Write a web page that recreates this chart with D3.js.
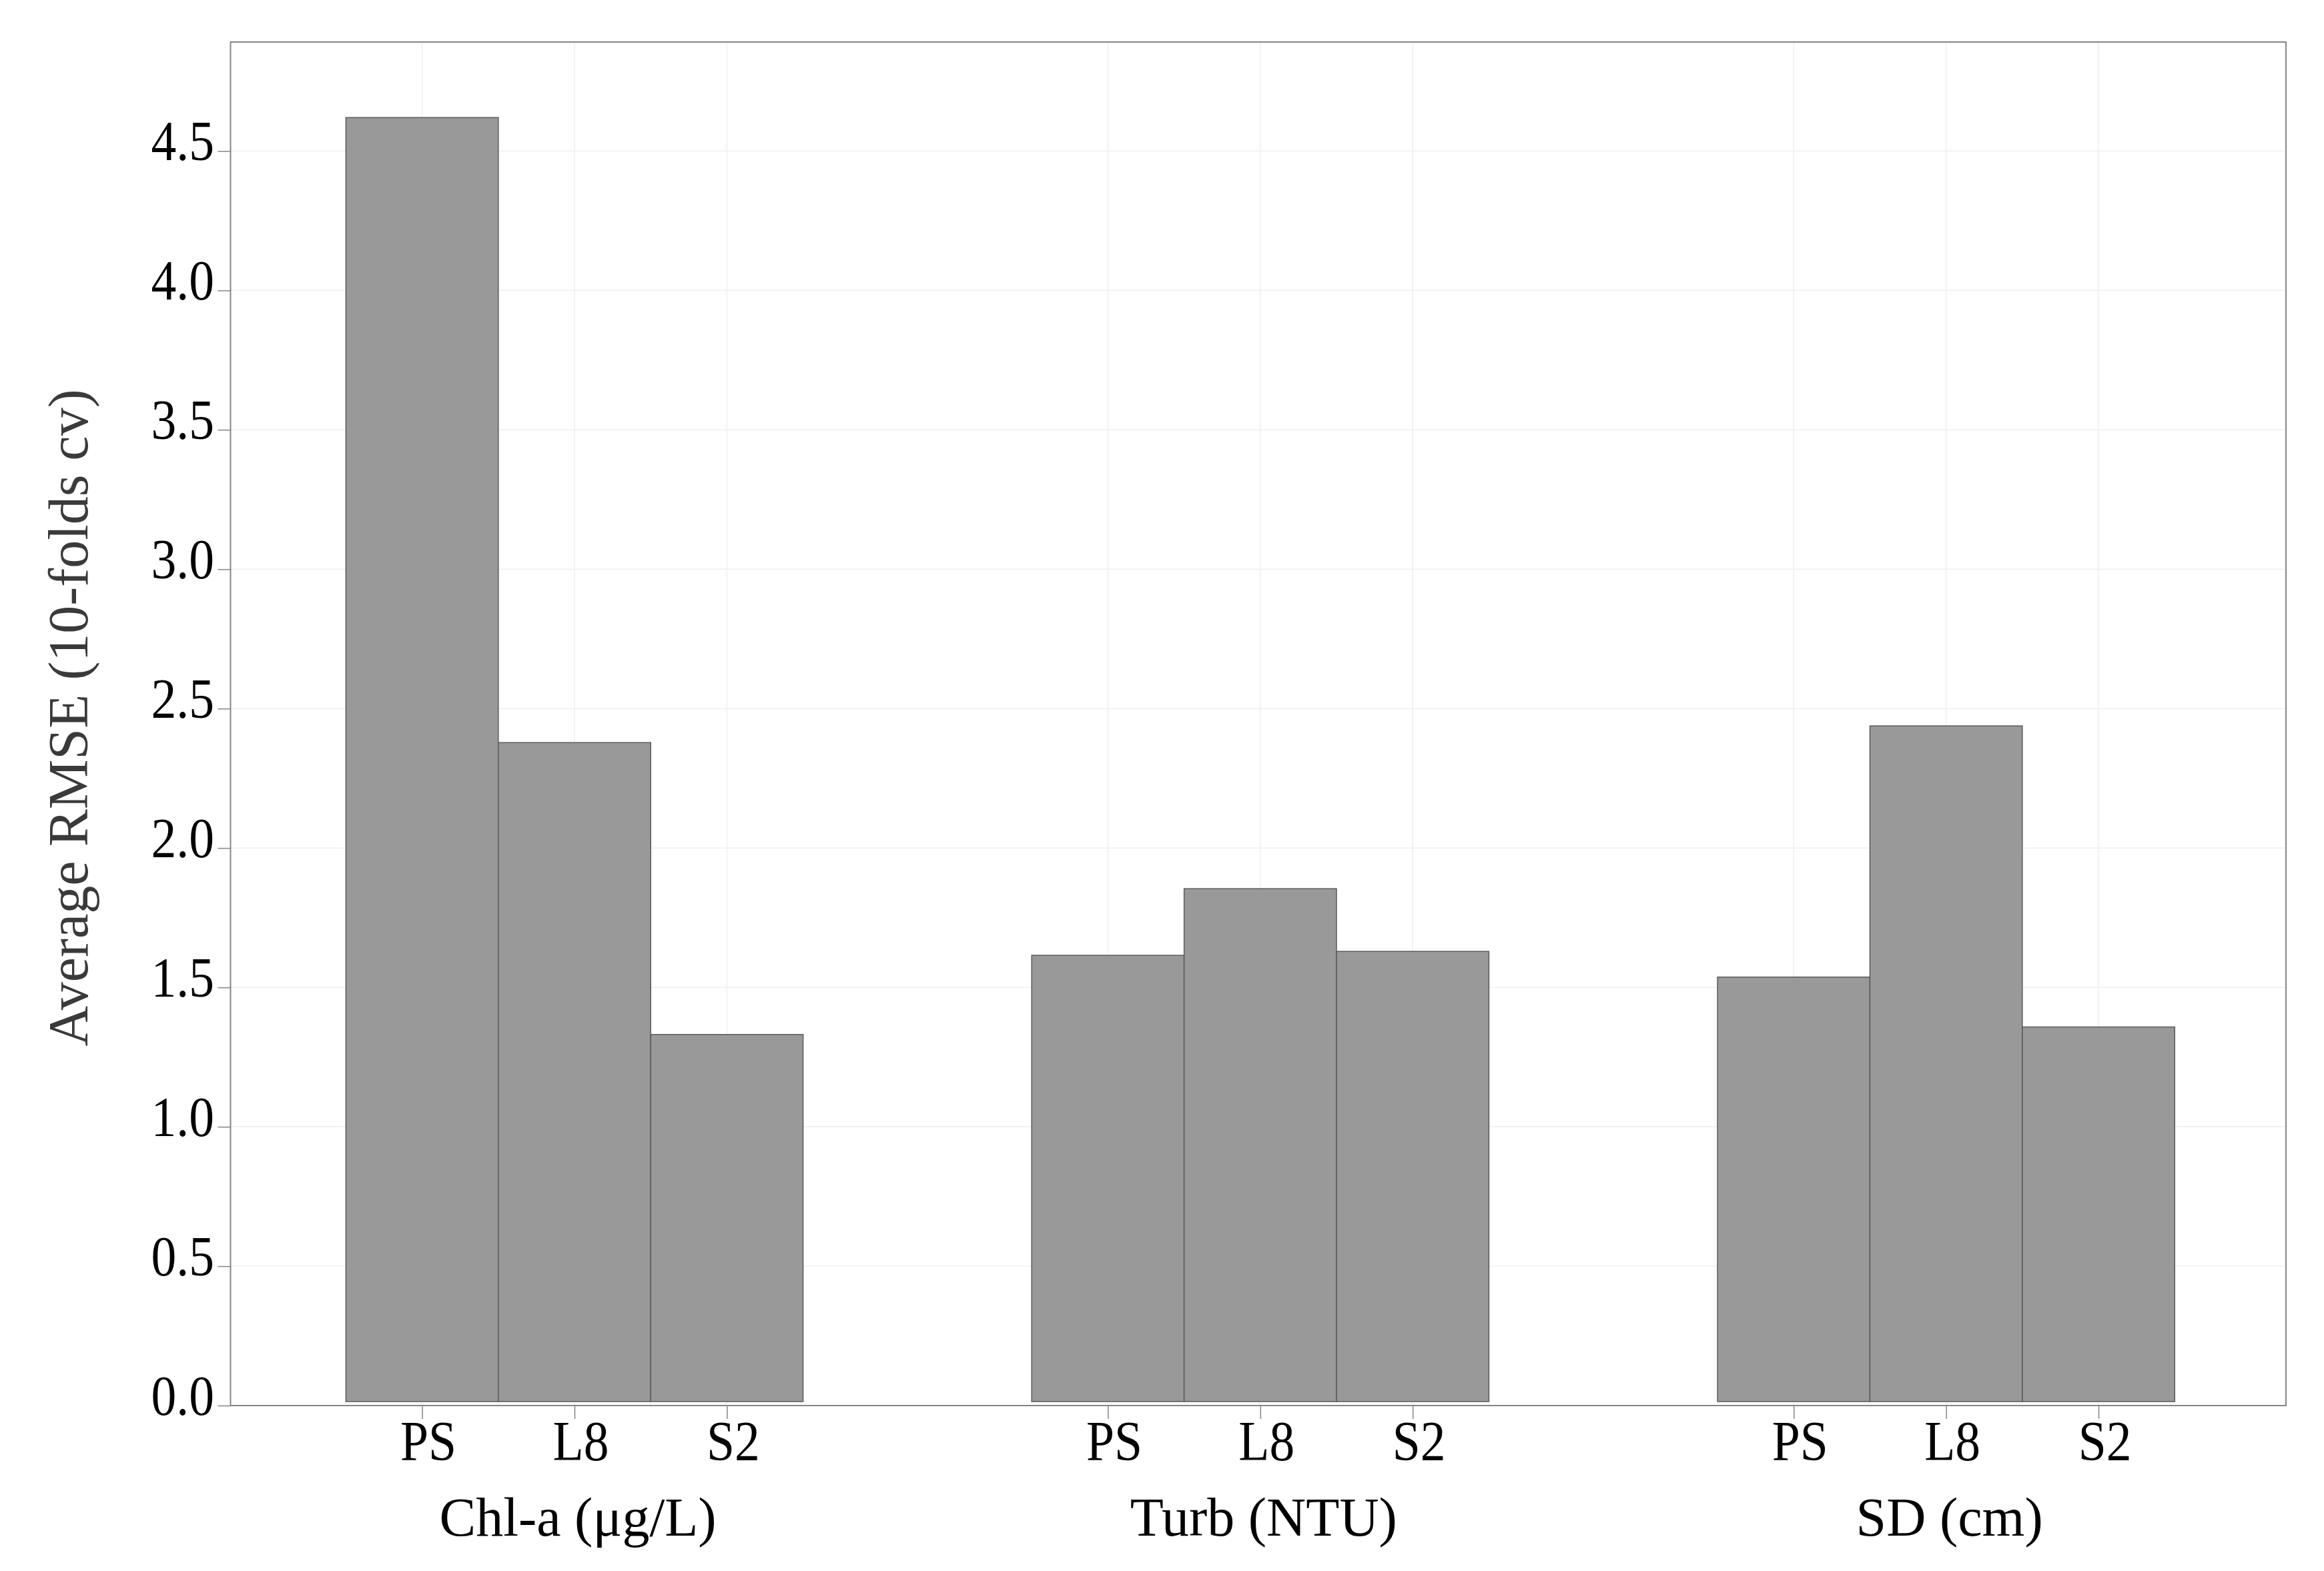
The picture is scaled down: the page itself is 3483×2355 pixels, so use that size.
<!DOCTYPE html>
<html>
<head>
<meta charset="utf-8">
<script src="https://cdn.jsdelivr.net/npm/d3@7"></script>
<style>
  html, body { margin: 0; padding: 0; background: #ffffff; }
  svg { display: block; }
</style>
</head>
<body>
<div id="chart"></div>
<script>
// ---- data ----
const groups = ["Chl-a (\u03bcg/L)", "Turb (NTU)", "SD (cm)"];
const sensors = ["PS", "L8", "S2"];
const chlValues = [4.62, 2.378, 1.331];
const turbValues = [1.615, 1.854, 1.629];
const sdValues = [1.537, 2.438, 1.358];
const yTicks = [0.0, 0.5, 1.0, 1.5, 2.0, 2.5, 3.0, 3.5, 4.0, 4.5];
const yTitle = "Average RMSE (10-folds cv)";

const seriesByGroup = [chlValues, turbValues, sdValues];
const groupStep = 4.5; // category slots between group starts

const data = [];
groups.forEach((g, gi) => {
  sensors.forEach((s, si) => {
    data.push({ group: g, sensor: s, pos: gi * groupStep + si, value: seriesByGroup[gi][si] });
  });
});

// ---- layout ----
const W = 3483, H = 2355;
const plotLeft = 345.5, plotRight = 3426, plotTop = 63, plotBottom = 2107;
const barBaseGap = 6;
const FONT = "'Liberation Serif','Times New Roman',serif";

const svg = d3.select("#chart").append("svg")
  .attr("width", W).attr("height", H)
  .attr("viewBox", `0 0 ${W} ${H}`);

svg.append("rect").attr("width", W).attr("height", H).attr("fill", "#ffffff");

const x = d3.scaleLinear().domain([-1.257, 12.23]).range([plotLeft, plotRight]);
const y = d3.scaleLinear().domain([0, 4.891]).range([plotBottom, plotTop]);
const unit = x(1) - x(0);

// gridlines
const grid = svg.append("g").attr("class", "grid");
grid.selectAll("line.h").data(yTicks.filter(t => t > 0)).join("line")
  .attr("class", "h")
  .attr("x1", plotLeft).attr("x2", plotRight)
  .attr("y1", d => y(d)).attr("y2", d => y(d))
  .attr("stroke", "#efefef").attr("stroke-width", 1.5);
grid.selectAll("line.v").data(data).join("line")
  .attr("class", "v")
  .attr("x1", d => x(d.pos)).attr("x2", d => x(d.pos))
  .attr("y1", plotTop).attr("y2", plotBottom)
  .attr("stroke", "#efefef").attr("stroke-width", 1.5);

// bars
svg.append("g").selectAll("rect").data(data).join("rect")
  .attr("x", d => x(d.pos - 0.5))
  .attr("width", unit)
  .attr("y", d => y(d.value))
  .attr("height", d => (y(0) - barBaseGap) - y(d.value))
  .attr("fill", "#999999")
  .attr("stroke", "#5a5a5a")
  .attr("stroke-width", 1.5);

// frame
svg.append("rect")
  .attr("x", plotLeft).attr("y", plotTop)
  .attr("width", plotRight - plotLeft).attr("height", plotBottom - plotTop)
  .attr("fill", "none").attr("stroke", "#858585").attr("stroke-width", 2);

// y axis ticks + labels
const yAxis = d3.axisLeft(y).tickValues(yTicks).tickSize(19).tickPadding(5)
  .tickFormat(d3.format(".1f"));
const gy = svg.append("g").attr("transform", `translate(${plotLeft},0)`).call(yAxis);
gy.select(".domain").remove();
gy.selectAll(".tick line").attr("stroke", "#858585").attr("stroke-width", 1.5);
gy.selectAll(".tick text")
  .attr("font-family", FONT)
  .attr("font-size", 84)
  .attr("fill", "#000")
  .attr("dy", null)
  .attr("x", 0)
  .attr("y", 13)
  .attr("text-anchor", "end")
  .attr("transform", "translate(-24.5,0) scale(0.9,1)");

// x axis ticks + labels
const xAxis = d3.axisBottom(x).tickValues(data.map(d => d.pos)).tickSize(20)
  .tickFormat((d, i) => data[i].sensor);
const gx = svg.append("g").attr("transform", `translate(0,${plotBottom})`).call(xAxis);
gx.select(".domain").remove();
gx.selectAll(".tick line").attr("stroke", "#858585").attr("stroke-width", 1.5);
gx.selectAll(".tick text")
  .attr("font-family", FONT)
  .attr("font-size", 84)
  .attr("fill", "#000")
  .attr("dy", null)
  .attr("y", 0)
  .attr("text-anchor", "middle")
  .attr("transform", "translate(9,82) scale(0.9,1)");

// group labels
svg.append("g").selectAll("text").data(groups).join("text")
  .attr("x", (d, i) => x(i * groupStep + 1) + 5)
  .attr("y", 2302)
  .attr("text-anchor", "middle")
  .attr("font-family", FONT)
  .attr("font-size", 82)
  .attr("fill", "#000")
  .text(d => d);

// y title
svg.append("text")
  .attr("transform", `translate(131,1076) rotate(-90)`)
  .attr("text-anchor", "middle")
  .attr("font-family", FONT)
  .attr("font-size", 84)
  .attr("fill", "#3a3a3a")
  .text(yTitle);
</script>
</body>
</html>
